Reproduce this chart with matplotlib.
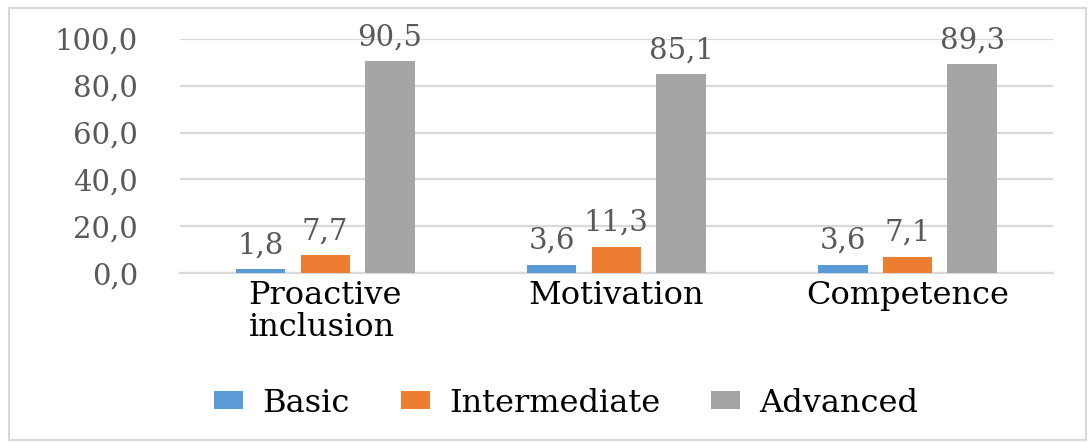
import numpy as np
import matplotlib
matplotlib.use("Agg")
import matplotlib.pyplot as plt
from matplotlib.patches import Rectangle

# data
categories = ["Proactive\ninclusion", "Motivation", "Competence"]
series_names = ["Basic", "Intermediate", "Advanced"]
basic = [1.8, 3.6, 3.6]
intermediate = [7.7, 11.3, 7.1]
advanced = [90.5, 85.1, 89.3]
colors = ["#5B9BD5", "#ED7D31", "#A5A5A5"]
yticks = [0, 20, 40, 60, 80, 100]

plt.rcParams["font.family"] = ["DejaVu Serif"]

fig = plt.figure(figsize=(10.89, 4.42), dpi=100)
ax = fig.add_axes([0.165, 0.382, 0.802, 0.530])

x = np.arange(len(categories))
width = 0.17
offset = 0.222
series = [basic, intermediate, advanced]

for i, (vals, name, col) in enumerate(zip(series, series_names, colors)):
    bars = ax.bar(x + (i - 1) * offset, vals, width, color=col, label=name, zorder=3)
    labels = [f"{v:.1f}".replace(".", ",") for v in vals]
    ax.bar_label(bars, labels=labels, padding=7, fontsize=21, color="#595959")

ax.set_xlim(-0.5, 2.5)
ax.set_ylim(0, 100)
ax.set_yticks(yticks)
ax.set_yticklabels([f"{t:.1f}".replace(".", ",") for t in yticks], fontsize=21, color="#595959")
ax.set_xticks(x)
ax.set_xticklabels(categories, fontsize=23, color="black", linespacing=1.05,
                   multialignment="left")
ax.tick_params(axis="y", length=0, pad=30)
ax.tick_params(axis="x", length=0, pad=5)

ax.grid(axis="y", color="#D9D9D9", linewidth=1.6, zorder=0)
for s in ["top", "right", "left"]:
    ax.spines[s].set_visible(False)
ax.spines["bottom"].set_color("#D9D9D9")
ax.spines["bottom"].set_linewidth(1.6)

leg = fig.legend(loc="center", bbox_to_anchor=(0.52, 0.088), ncol=3, frameon=False,
                 fontsize=23, handlelength=0.9, handleheight=0.5, handletextpad=0.6,
                 columnspacing=1.6)

# thin outer frame like the original chart box
fig.patches.append(Rectangle((0.008, 0.004), 0.989, 0.978, transform=fig.transFigure,
                             fill=False, edgecolor="#D9D9D9", linewidth=1.5))

fig.savefig("out.png", dpi=100)
